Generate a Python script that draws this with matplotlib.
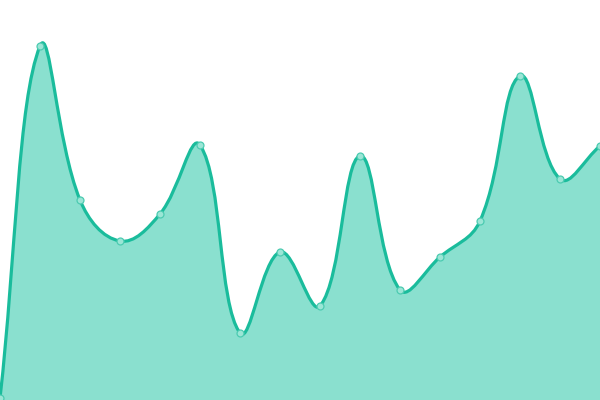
import matplotlib
matplotlib.use("Agg")
import matplotlib.pyplot as plt
from matplotlib.path import Path
from matplotlib.patches import PathPatch
import numpy as np

# x positions (category index) and values
labels = list(range(16))
values = [2, 354, 200, 159, 186, 255, 67, 148, 94, 244, 110, 143, 179, 324, 221, 254]

LINE = "#1abc9c"
FILL = "#8ae0cf"
TENSION = 0.4
STEP = 40  # units per category (pixel-equal scaling)

fig = plt.figure(figsize=(6, 4), dpi=100)
ax = fig.add_axes([0, 0, 1, 1])
ax.set_xlim(0, 600)
ax.set_ylim(0, 400)
ax.axis("off")

xs = np.array(labels, dtype=float) * STEP
ys = np.array(values, dtype=float)
pts = list(zip(xs, ys))
n = len(pts)

# Chart.js style spline control points
cps = []
for i in range(n):
    cur = np.array(pts[i])
    prev = np.array(pts[i - 1]) if i > 0 else cur
    nxt = np.array(pts[i + 1]) if i < n - 1 else cur
    d01 = np.hypot(*(cur - prev))
    d12 = np.hypot(*(nxt - cur))
    tot = d01 + d12
    s01 = d01 / tot if tot else 0
    s12 = d12 / tot if tot else 0
    fa = TENSION * s01
    fb = TENSION * s12
    cps.append((cur - fa * (nxt - prev), cur + fb * (nxt - prev)))

verts = [pts[0]]
codes = [Path.MOVETO]
for i in range(1, n):
    verts += [tuple(cps[i - 1][1]), tuple(cps[i][0]), pts[i]]
    codes += [Path.CURVE4] * 3

line_path = Path(verts, codes)
fill_verts = verts + [(xs[-1], 0), (xs[0], 0), pts[0]]
fill_codes = codes + [Path.LINETO, Path.LINETO, Path.CLOSEPOLY]
ax.add_patch(PathPatch(Path(fill_verts, fill_codes), facecolor=FILL, edgecolor="none", zorder=1))
ax.add_patch(PathPatch(line_path, facecolor="none", edgecolor=LINE, lw=2.3, zorder=2, capstyle="round", joinstyle="round"))
ax.plot(xs, ys, linestyle="none", marker="o", markersize=5, markerfacecolor="#9be6d6",
        markeredgecolor="#4ccbb1", markeredgewidth=0.9, zorder=3, clip_on=False)

fig.savefig("out.png", dpi=100)
